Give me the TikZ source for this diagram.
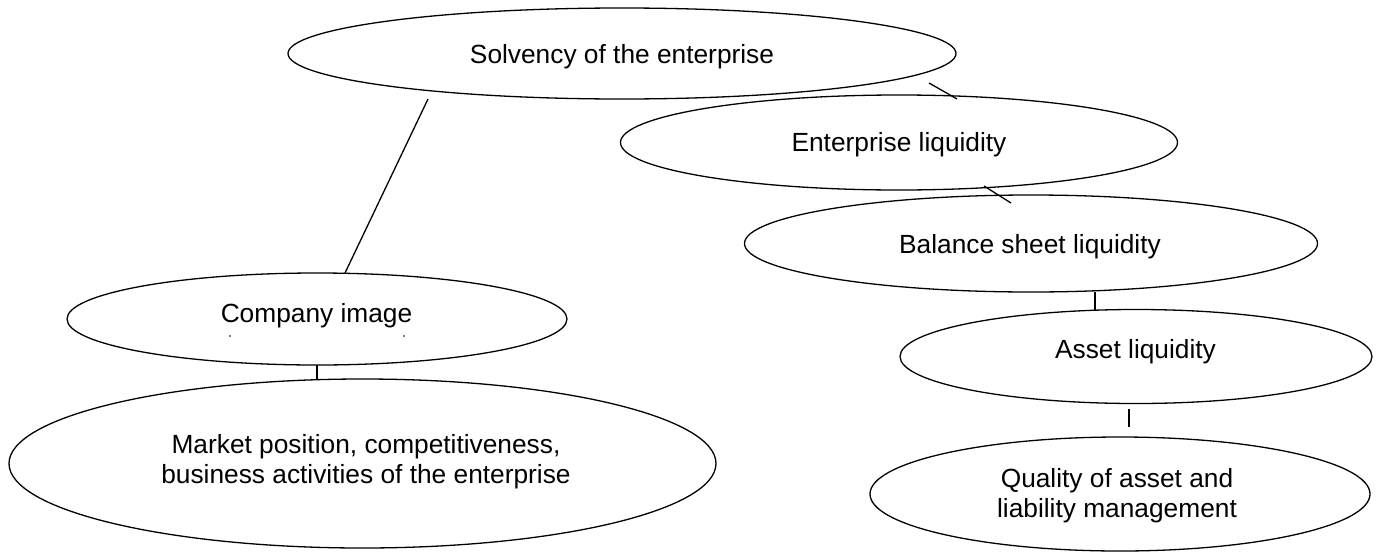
\documentclass[tikz,border=0pt]{standalone}
\usepackage{fontspec}
\setmainfont{Liberation Sans}
\usetikzlibrary{shapes.geometric}
\begin{document}
\begin{tikzpicture}[x=1pt,y=-1pt,
  oval/.style={draw, ellipse, line width=1.3pt, inner sep=0pt, outer sep=0pt},
  lbl/.style={anchor=base, inner sep=0pt, align=center, font=\fontsize{26.3}{29.5}\selectfont},
  link/.style={draw, line width=1.3pt}]
\useasboundingbox (0,0) rectangle (1378,557);
% ellipses
\node[oval, minimum width=668pt, minimum height=91pt] (solv) at (622,53.5) {};
\node[oval, minimum width=557pt, minimum height=95pt] (ent) at (899,142.5) {};
\node[oval, minimum width=573pt, minimum height=97pt] (bal) at (1031,243.5) {};
\node[oval, minimum width=500pt, minimum height=92pt] (comp) at (317,319) {};
\node[oval, minimum width=472pt, minimum height=94pt] (asset) at (1136,356.5) {};
\node[oval, minimum width=707pt, minimum height=169pt] (market) at (362.5,463.5) {};
\node[oval, minimum width=500pt, minimum height=114pt] (qual) at (1120,494) {};
% texts
\node[lbl] (solvt) at (622,63) {Solvency of the enterprise};
\node[lbl] (entt) at (899,151) {Enterprise liquidity};
\node[lbl] (balt) at (1030,253) {Balance sheet liquidity};
\node[lbl] (compt) at (316.5,322) {Company image};
\node[lbl] (assett) at (1135.5,358) {Asset liquidity};
\node[lbl] (markett) at (366,483) {Market position, competitiveness,\\business activities of the enterprise};
\node[lbl] (qualt) at (1117,517) {Quality of asset and\\liability management};
% small specks under "Company image"
\fill (230,336) circle (0.9pt);
\fill (404,336) circle (0.9pt);
% connector end points
\coordinate (s1) at (428,99);
\coordinate (c1) at (345,273);
\coordinate (s2) at (929,83);
\coordinate (e2) at (957,99);
\coordinate (e3) at (984,186);
\coordinate (b3) at (1011,203);
\coordinate (b4) at (1095,292);
\coordinate (a4) at (1095,310);
\coordinate (a5) at (1129,409);
\coordinate (q5) at (1129,427);
\coordinate (c6) at (317,365);
\coordinate (m6) at (317,379);
% connectors
\draw[link] (s1) -- (c1);
\draw[link] (s2) -- (e2);
\draw[link] (e3) -- (b3);
\draw[link] (b4) -- (a4);
\draw[link] (a5) -- (q5);
\draw[link] (c6) -- (m6);
\end{tikzpicture}
\end{document}
